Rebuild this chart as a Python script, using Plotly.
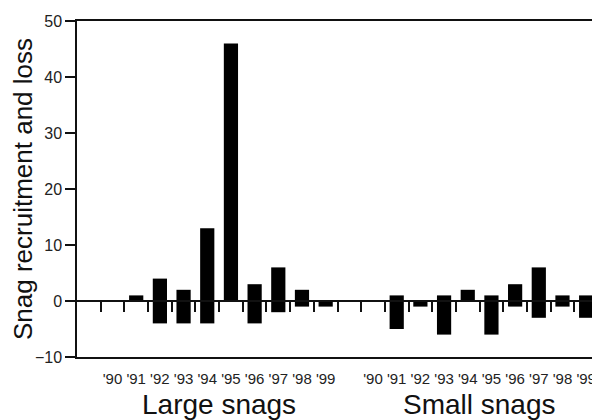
import plotly.graph_objects as go

years = ["'90", "'91", "'92", "'93", "'94", "'95", "'96", "'97", "'98", "'99"]
groups = ["Large snags", "Small snags"]
large_recruit = [0, 1, 4, 2, 13, 46, 3, 6, 2, 0]
large_loss = [0, 0, -4, -4, -4, 0, -4, -2, -1, -1]
small_recruit = [0, 1, 0, 1, 2, 1, 3, 6, 1, 1]
small_loss = [0, -5, -1, -6, 0, -6, -1, -3, -1, -3]
y_ticks = [-10, 0, 10, 20, 30, 40, 50]

n = len(years)
starts = [1, n + 2]  # category index where each group begins
total = starts[-1] + n
xc, labels, pos, neg = [], [], [], []
for g, (r, l) in enumerate([(large_recruit, large_loss), (small_recruit, small_loss)]):
    for i in range(n):
        xc.append(starts[g] + i + 0.5)
        labels.append(years[i])
        pos.append(r[i])
        neg.append(l[i])

bounds = []
for s in starts:
    bounds += [s + i for i in range(n + 1)]

FONT = "Liberation Sans, Arial, sans-serif"
fig = go.Figure()
fig.add_trace(go.Bar(x=xc, y=pos, width=0.6, marker=dict(color="black", line=dict(width=0)), showlegend=False))
fig.add_trace(go.Bar(x=xc, y=neg, width=0.6, marker=dict(color="black", line=dict(width=0)), showlegend=False))

# zero-line axis carrying the category boundary ticks
fig.add_trace(go.Scatter(x=[0, total], y=[0, 0], xaxis="x2", mode="lines",
                         line=dict(color="rgba(0,0,0,0)"), showlegend=False, hoverinfo="skip"))

zero_frac = (0 - y_ticks[0]) / (y_ticks[-1] - y_ticks[0])

# page body has an 8px margin, so the figure is sized/margined to compensate
fig.update_layout(
    barmode="relative",
    width=592, height=412,
    margin=dict(l=69, r=2, t=13, b=63),
    paper_bgcolor="white", plot_bgcolor="white",
    font=dict(family=FONT, color="black"),
    xaxis=dict(range=[0, total], tickmode="array", tickvals=xc, ticktext=labels, automargin=False,
               showgrid=False, zeroline=False, showline=True, linecolor="#111", linewidth=1.5,
               mirror=True, ticks="", tickfont=dict(size=15, color="#222"), ticklabelstandoff=7),
    xaxis2=dict(range=[0, total], overlaying="x", anchor="free", position=zero_frac, automargin=False,
                tickmode="array", tickvals=bounds, showticklabels=False, ticks="outside",
                ticklen=10, tickwidth=1.5, tickcolor="#111", showgrid=False, zeroline=False,
                showline=True, linecolor="#111", linewidth=1.5),
    yaxis=dict(range=[y_ticks[0], y_ticks[-1]], tickvals=y_ticks, ticks="outside", ticklen=10,
               tickwidth=1.5, tickcolor="#111", showgrid=False, zeroline=False, showline=True,
               mirror=True, linecolor="#111", linewidth=1.5, tickfont=dict(size=16, color="#222"),
               automargin=False,
               title=dict(text="Snag recruitment and loss", standoff=6,
                          font=dict(size=26, family=FONT, color="#111"))),
)
for g, name in enumerate(groups):
    fig.add_annotation(x=starts[g] + n / 2, y=0, xref="x", yref="paper", yanchor="middle",
                       yshift=-47, text=name, showarrow=False,
                       font=dict(size=28, family=FONT, color="#111"))

fig.write_html("out.html")
